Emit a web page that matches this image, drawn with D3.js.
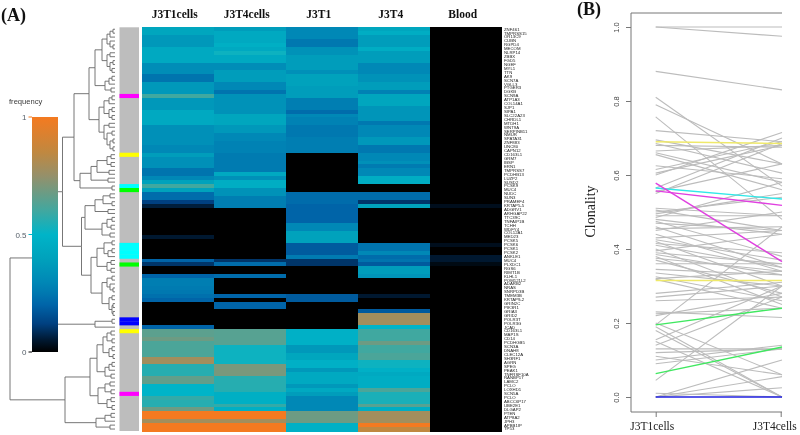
<!DOCTYPE html>
<html><head><meta charset="utf-8"><title>Heatmap and clonality</title>
<script src="https://cdn.jsdelivr.net/npm/d3@7"></script>
<style>html,body{margin:0;padding:0;background:#fff}svg{display:block;filter:blur(0.35px)}</style></head>
<body><svg id="c" width="800" height="435"></svg>
<script>
const geneLabels=["ZNF461","TMPRSS15","OR13C9","CUBN","RGPD4","MECOM","NLRP14","ZBBX","FGD5","NGEF","MYL1","TTN","AK9","SCN7A","VGLL3","PTGER3","DGKB","SCN9A","ATP1A3","COL14A1","SJP1","SIPA1","SLC22A23","CHRDL1","MTDH1","WNT9A","SERPINB11","NMUR","SPATA31","ZNF883","UNC80","CAPN12","CD163L1","GRM7","IBSP","ERN1","TMPRSS7","PCDHB13","LUZP2","SUSD2","PCSK9","MUC4","NUDC","SUN3","PRAMEF4","KRTAP5-5","ADGRV1","ARHGAP22","TTC39C","TNFAIP1B","TCHH","WDFY4","COL12A1","MED23","PCSK5","PCSK6","PCSK1","PCSK2","ANKLE1","MUC4","PLXDC1","RGS6","RIMT1B","KLHL1","POM121L2","ADARB2","NRAS","SNRPD3B","TMEM3B","KRTAP9-2","GRIN2C","PIK3R1","GRIA3","GRID2","POLR3T","POLR3G","JCAD","CD163L1","MAP1S","CD14","PCDHGB5","SCN3A","DNAH8","CLEC12A","SH3RF1","AGRN","SPEG","PEAK1","TNFRSF10A","RANBP17","LAMC2","PCLO","LOXHD1","SCN5A","PCLO","ABCC6P17","UBE2E1","DLGAP2","PTEN","ATP8A2","JPH3","APBB1IP","TP53"];
const sampleNames=["J3T1cells","J3T4cells","J3T1","J3T4","Blood"];
const j3t1cells=[.42,.42,.36,.36,.36,.44,.44,.44,.44,.32,.32,.32,.24,.24,.36,.36,.36,.6,.36,.36,.36,.44,.44,.44,.44,.33,.33,.33,.33,.33,.3,.3,.38,.33,.33,.33,.24,.24,.3,.4,.6,.4,.22,.22,.12,.06,0,0,0,0,0,0,0,.05,0,0,0,0,0,.2,.1,0,0,.2,.27,.27,.26,.25,.23,.2,0,0,0,0,0,0,.2,.65,.65,.68,.62,.62,.62,.62,.78,.78,.56,.56,.56,.66,.66,.5,.5,.5,.58,.56,.56,.68,1,1,.78,1,1];
const j3t4cells=[.38,.44,.44,.44,.47,.44,.52,.44,.44,.32,.32,.38,.38,.38,.3,.3,.24,.34,.34,.34,.34,.34,.42,.42,.42,.36,.36,.3,.3,.28,.28,.28,.26,.26,.26,.26,.26,.44,.33,.46,.46,.34,.34,.27,.27,.27,0,0,0,0,0,0,0,0,0,0,0,0,0,.1,.22,0,0,.22,0,0,0,0,.2,0,.2,.2,0,0,0,0,0,.64,.64,.64,.64,.52,.52,.52,.52,.52,.7,.7,.7,.56,.56,.56,.56,.47,.47,.47,.58,.47,1,1,.78,1,1];
const j3t1=[.3,.3,.3,.25,.25,.34,.34,.38,.38,.38,.38,.33,.4,.4,.4,.38,.38,.38,.27,.27,.27,.22,.3,.28,.28,.25,.25,.25,.27,.27,.27,.27,0,0,0,0,0,0,0,0,0,0,.22,.22,.22,.2,.2,.2,.2,.2,.3,.3,.4,.4,.4,.18,.18,.18,.26,.1,.1,0,0,0,0,0,0,0,.18,.18,0,0,0,0,0,0,0,.48,.48,.48,.48,.36,.36,.42,.42,.48,.48,.36,.44,.44,.44,.36,.44,.38,.3,.3,.3,.3,.68,.68,.68,.48,.48];
const j3t4=[.42,.46,.38,.38,.38,.46,.38,.38,.38,.3,.3,.3,.34,.34,.38,.38,.28,.42,.42,.42,.35,.35,.35,.35,.25,.3,.3,.3,.36,.36,.25,.25,.3,.3,.33,.26,.3,.3,.46,.46,0,0,.22,.22,.1,.4,0,0,0,0,0,0,0,0,0,.24,.24,.3,.22,.24,.18,.38,.38,.35,0,0,0,0,.05,0,0,0,.18,.78,.78,.78,.5,.6,.6,.6,.68,.6,.6,.62,.62,.52,.52,.48,.44,.46,.46,.46,.62,.54,.54,.54,.64,.46,.78,.78,.78,1,.85];
const blood=[0,0,0,0,0,0,0,0,0,0,0,0,0,0,0,0,0,0,0,0,0,0,0,0,0,0,0,0,0,0,0,0,0,0,0,0,0,0,0,0,0,0,0,0,0,.03,0,0,0,0,0,0,0,0,0,.03,0,0,.05,.05,.02,0,0,0,0,0,0,0,0,0,0,0,0,0,0,0,0,0,0,0,0,0,0,0,0,0,0,0,0,0,0,0,0,0,0,0,0,0,0,0,0,0,0];
const heatColumns=[j3t1cells,j3t4cells,j3t1,j3t4,blood];
const colorStops=[0,.05,.12,.2,.25,.3,.4,.5,.6,.75,.85,1];
const colorValues=["#000000","#001830","#004080","#0064a8","#0078b0","#0088b6","#00a2bc","#00b4c8","#40a8a0","#95906a","#c08840","#f47a20"];
const marked=[[17,"#ff00ff"],[32,"#ffff00"],[40,"#00ffff"],[41,"#00ff00"],[55,"#00ffff"],[56,"#00ffff"],[57,"#00ffff"],[58,"#00ffff"],[60,"#00ff00"],[74,"#0000ff"],[75,"#0000ff"],[77,"#ffff00"],[93,"#ff00ff"]];
const dendrogram=[105,
 [65,
  [52.5,
   [41,
    [26,
     [20,
      [13,[8,[5,[2,0,1],2],[5,3,[2,4,5]]],[8,[5,6,7],[5,[2,8,9],[3,10,11]]]],
      [10,[6,[3,12,13],14],[4,15,16]]],
     [16,
      [11,[6,[3,17,18],19],[6,[3,20,21],[3,22,23]]],
      [11,[6,24,25],[8,[3,26,27],[5,[2,28,29],[2,30,31]]]]]],
    [35,
     [24,[18,[8,[4,32,33],[4,34,35]],[6,36,37]],[7,38,39]],
     [3,40,41]]],
   [33.5,
    [30,
     [20,[12,[5,42,43],[3,44,45]],[7,46,47]],
     [13,[8,[3,48,49],[4,50,51]],[5,52,53]]],
    [24,
     [18,[11,[3,54,55],[7,[3,56,57],58]],[8,[4,59,60],[4,61,62]]],
     [13,[8,[3,63,64],[5,65,[2,66,67]]],[6,[3,68,69],[3,[2,70,71],[2,72,73]]]]]]],
  [20,[3,74,75],76]],
 [50,
  [25,
   [18,
    [12,[8,[4,77,78],[3,79,80]],[6,[3,81,82],[2,83,84]]],
    [10,[6,[3,85,86],87],[4,88,89]]],
   [17,[10,[5,90,91],[4,92,93]],[8,[4,94,95],[3,96,97]]]],
  [19,[10,[4,98,99],100],[5,101,102]]]];
const pairedClonality=[[1,1],[1,.975],[.88,.83],[.81,.57],[.79,.63],[.757,.48],[.72,.69],[.695,.63],[.685,.605],[.68,.675],[.665,.68],[.66,.58],[.655,.56],[.625,.59],[.605,.68],[.6,.715],[.615,.69],[.565,.7],[.55,.685],[.555,.63],[.51,.49],[.505,.45],[.5,.54],[.495,.55],[.49,.49],[.485,.58],[.48,.44],[.475,.38],[.47,.45],[.46,.35],[.455,.46],[.45,.5],[.44,.34],[.43,.45],[.425,.37],[.42,.3],[.415,.39],[.41,.35],[.4,.27],[.395,.44],[.39,.36],[.385,.33],[.38,.25],[.375,.34],[.37,.28],[.36,.36],[.345,.33],[.335,.3],[.325,.26],[.32,.34],[.318,.24],[.28,.31],[.27,.3],[.26,.27],[.23,.215],[.225,.24],[.22,.28],[.2,.06],[.195,.46],[.19,0],[.18,0],[.155,.3],[.15,0],[.14,.27],[.13,.13],[.12,.13],[.11,.06],[.1,.14],[.09,.13],[.045,.3],[.01,0],[0,.1],[0,.055],[0,.025]];
const highlightPairs=[[.69,.685,"#efe96a"],[.315,.315,"#efe96a"],[.565,.535,"#30e8e8"],[.578,.366,"#e040e0"],[.557,.518,"#e040e0"],[.195,.24,"#40e860"],[.063,.135,"#40e860"],[0,0,"#2020e0"]];
const panelSamples=["J3T1cells","J3T4cells"];
const clonalityTicks=[0,.2,.4,.6,.8,1];

const svg=d3.select("#c");
const ROWS=j3t1cells.length;
const sans="'Liberation Sans',Arial,sans-serif", serif="'Liberation Serif','Times New Roman',serif";
const defs=svg.append("defs");
const rowY=d3.scaleBand().domain(d3.range(ROWS)).range([27.3,431]);
const colX=d3.scaleBand().domain(sampleNames).range([141.7,501.7]);
const color=d3.scaleLinear().domain(colorStops).range(colorValues);

// dendrogram (drawn first: the colour key sits on top of it)
const treeX=d3.scaleLinear().domain([0,105]).range([115,10]);
const root=d3.hierarchy(dendrogram,d=>Array.isArray(d)?d.slice(1):null);
root.eachAfter(n=>{
  if(n.children){n.px=treeX(n.data[0]);n.py=d3.mean(n.children,c=>c.py);}
  else{n.px=treeX(0);n.py=rowY(n.data)+rowY.bandwidth()/2;}
});
const elbow=root.descendants().filter(n=>n.children).map(n=>
  n.children.map(c=>`M${n.px},${n.py}V${c.py}H${c.px}`).join("")).join("");
svg.append("path").attr("d",elbow).attr("fill","none").attr("stroke","#686868").attr("stroke-width",0.9);

// colour key
const keyY=d3.scaleLinear().domain([0,1]).range([352,117]);
const grad=defs.append("linearGradient").attr("id","key").attr("x1",0).attr("x2",0).attr("y1",1).attr("y2",0);
colorStops.forEach((s,i)=>grad.append("stop").attr("offset",s).attr("stop-color",colorValues[i]));
svg.append("rect").attr("x",32).attr("width",26).attr("y",keyY(1)).attr("height",keyY(0)-keyY(1)).attr("fill","url(#key)");
const keyG=svg.append("g");
[0,.5,1].forEach(v=>{
  keyG.append("line").attr("x1",28.5).attr("x2",32).attr("y1",keyY(v)).attr("y2",keyY(v)).attr("stroke",color(v)).attr("stroke-width",1);
  keyG.append("text").attr("x",26.5).attr("y",keyY(v)+3).attr("text-anchor","end").attr("font-family",sans).attr("font-size",8).attr("fill","#56606a").text(v);
});
svg.append("text").attr("x",9).attr("y",104).attr("font-family",sans).attr("font-size",7.6).attr("fill","#3a3a3a").text("frequency");

// annotation strip
svg.append("rect").attr("x",119.5).attr("width",19.5).attr("y",27.3).attr("height",403.7).attr("fill","#bdbdbd");
svg.append("g").selectAll("rect").data(marked).join("rect").attr("x",119.5).attr("width",19.5)
  .attr("y",d=>rowY(d[0])).attr("height",rowY.bandwidth()+.2).attr("fill",d=>d[1]);

// heat map
const cols=svg.append("g").attr("shape-rendering","crispEdges").selectAll("g").data(heatColumns).join("g")
  .attr("transform",(d,i)=>`translate(${colX(sampleNames[i])},0)`);
cols.selectAll("rect").data(d=>d).join("rect").attr("x",0).attr("width",colX.bandwidth())
  .attr("y",(d,i)=>rowY(i)).attr("height",rowY.bandwidth()+.5).attr("fill",d=>color(d));
svg.append("g").selectAll("text").data(sampleNames).join("text").attr("x",d=>colX(d)+colX.bandwidth()/2-3).attr("y",17.5)
  .attr("text-anchor","middle").attr("font-family",serif).attr("font-weight","bold").attr("font-size",11.5).attr("fill","#111").text(d=>d);
svg.append("g").selectAll("text").data(geneLabels).join("text").attr("x",504)
  .attr("y",(d,i)=>rowY(i)+rowY.bandwidth()/2+1.4).attr("font-family",sans).attr("font-size",4.3).attr("fill","#222").text(d=>d);

svg.append("text").attr("x",1).attr("y",21).attr("font-family",serif).attr("font-weight","bold").attr("font-size",18).attr("fill","#111").text("(A)");
svg.append("text").attr("x",577).attr("y",15).attr("font-family",serif).attr("font-weight","bold").attr("font-size",18).attr("fill","#111").text("(B)");

// panel B
const px=d3.scalePoint().domain(panelSamples).range([655.7,780.7]);
const py=d3.scaleLinear().domain([0,1]).range([397,27]);
const plot=svg.append("g");
const seg=(g,data,stroke,w)=>g.selectAll(null).data(data).join("line")
  .attr("x1",px(panelSamples[0])).attr("x2",px(panelSamples[1])+1.3)
  .attr("y1",d=>py(d[0])).attr("y2",d=>py(d[1])).attr("stroke",stroke).attr("stroke-width",w);
seg(plot,pairedClonality,"#bcbcbc",1.1);
seg(plot,highlightPairs,d=>d[2],1.4);
const axisColor="#777";
svg.append("path").attr("d","M782,13H631V412H782").attr("fill","none").attr("stroke",axisColor).attr("stroke-width",1);
const yAxis=svg.append("g").attr("transform","translate(631,0)").call(d3.axisLeft(py).tickValues(clonalityTicks).tickFormat(d3.format(".1f")).tickSize(5));
yAxis.select(".domain").remove();
yAxis.selectAll("line").attr("stroke",axisColor);
yAxis.selectAll("text").attr("transform","translate(-12,0) rotate(-90)").attr("x",0).attr("y",0).attr("dy",0).attr("text-anchor","middle")
  .attr("font-family",sans).attr("font-size",7.5).attr("fill","#444");
const xAxis=svg.append("g").attr("transform","translate(0,412)").call(d3.axisBottom(px).tickSize(5));
xAxis.select(".domain").remove();
xAxis.selectAll("line").attr("stroke",axisColor);
xAxis.selectAll("text").attr("dx",(d,i)=>i?-6.5:-4).attr("y",18).attr("dy",0).attr("font-family",serif).attr("font-size",11.5).attr("fill","#222");
svg.append("text").attr("transform","translate(595,211.5) rotate(-90)").attr("text-anchor","middle").attr("font-family",serif).attr("font-size",14).attr("fill","#222").text("Clonality");
</script></body></html>
